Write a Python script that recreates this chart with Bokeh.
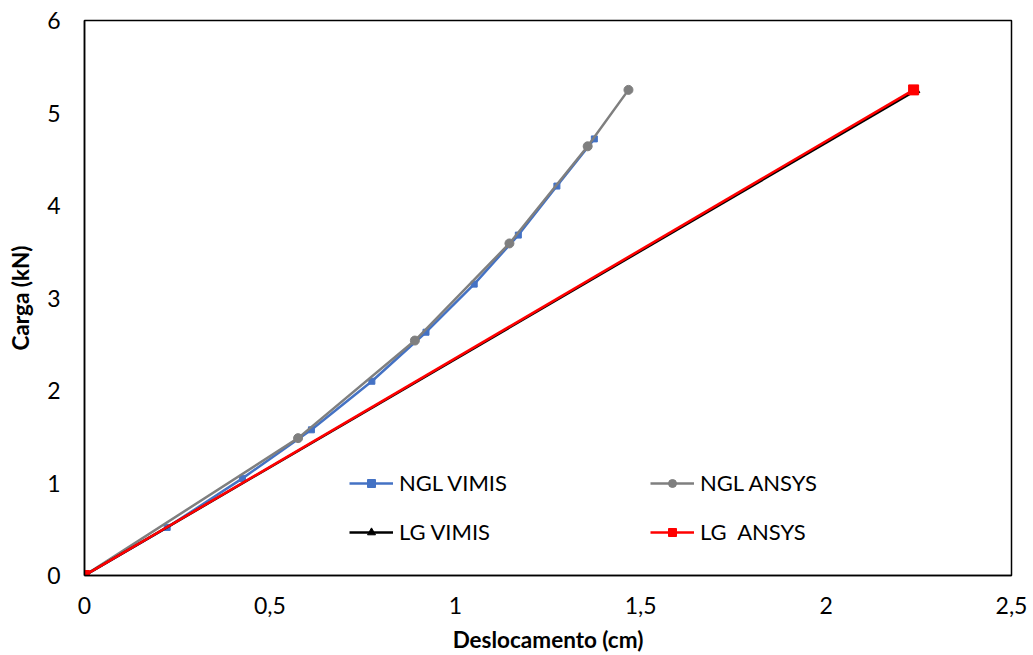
from bokeh.plotting import figure
from bokeh.models import Range1d, FixedTicker, Legend, LegendItem
from bokeh.embed import file_html
from bokeh.resources import INLINE

# Data
ngl_vimis_x = [0, 0.223, 0.426, 0.612, 0.775, 0.921, 1.051, 1.170, 1.274, 1.375]
ngl_vimis_y = [0, 0.52, 1.05, 1.575, 2.10, 2.63, 3.15, 3.68, 4.21, 4.72]
ngl_ansys_x = [0, 0.576, 0.891, 1.146, 1.357, 1.467]
ngl_ansys_y = [0, 1.485, 2.54, 3.59, 4.64, 5.25]
lg_vimis_x = [0, 2.242]
lg_vimis_y = [0, 5.245]
lg_ansys_x = [0, 2.236]
lg_ansys_y = [0, 5.25]

x_ticks = [0, 0.5, 1, 1.5, 2, 2.5]
x_tick_labels = ["0", "0,5", "1", "1,5", "2", "2,5"]
y_ticks = [0, 1, 2, 3, 4, 5, 6]
y_tick_labels = ["0", "1", "2", "3", "4", "5", "6"]

FONT = "Lato"

p = figure(width=1033, height=655, output_backend="svg", toolbar_location=None,
           x_range=Range1d(0, 2.5), y_range=Range1d(0, 6),
           min_border_left=84, min_border_right=22, min_border_top=20, min_border_bottom=79)
p.xgrid.visible = False
p.ygrid.visible = False
p.outline_line_color = "black"
p.outline_line_width = 1.5
p.outline_line_alpha = 1.0

for ax in (p.xaxis[0], p.yaxis[0]):
    ax.axis_line_color = "black"
    ax.axis_line_width = 1.5
    ax.major_tick_out = 0
    ax.major_tick_in = 0
    ax.minor_tick_out = 0
    ax.minor_tick_in = 0
    ax.major_label_text_font = FONT
    ax.major_label_text_font_size = "23px"
    ax.major_label_text_color = "black"
    ax.axis_label_text_font = FONT
    ax.axis_label_text_font_size = "22.5px"
    ax.axis_label_text_font_style = "bold"
    ax.axis_label_text_color = "black"

p.xaxis.ticker = FixedTicker(ticks=x_ticks)
p.xaxis.major_label_overrides = {t: l for t, l in zip(x_ticks, x_tick_labels)}
p.yaxis.ticker = FixedTicker(ticks=y_ticks)
p.yaxis.major_label_overrides = {t: l for t, l in zip(y_ticks, y_tick_labels)}
p.xaxis.axis_label = "Deslocamento (cm)"
p.yaxis.axis_label = "Carga (kN)"
p.xaxis.major_label_standoff = 21
p.yaxis.major_label_standoff = 24
p.xaxis.axis_label_standoff = 9
p.yaxis.axis_label_standoff = 10

blue = "#4472C4"
grey = "#7F7F7F"
red = "#FF0000"

l1 = p.line(ngl_vimis_x, ngl_vimis_y, line_color=blue, line_width=2.5)
s1 = p.scatter(ngl_vimis_x, ngl_vimis_y, marker="square", size=6, fill_color=blue, line_color=blue)
l2 = p.line(ngl_ansys_x, ngl_ansys_y, line_color=grey, line_width=2.5)
s2 = p.scatter(ngl_ansys_x, ngl_ansys_y, marker="circle", size=9, fill_color=grey, line_color=grey)
l3 = p.line(lg_vimis_x, lg_vimis_y, line_color="black", line_width=2.5)
s3 = p.scatter(lg_vimis_x, lg_vimis_y, marker="triangle", size=8, fill_color="black", line_color="black")
l4 = p.line(lg_ansys_x, lg_ansys_y, line_color=red, line_width=2.5)
s4 = p.scatter(lg_ansys_x, lg_ansys_y, marker="square", size=10, fill_color=red, line_color=red)

def make_legend(items, loc):
    lg = Legend(items=items, location=loc, orientation="vertical",
                padding=0, margin=0, spacing=22,
                glyph_width=44, glyph_height=20, label_height=20,
                label_standoff=6,
                label_text_font=FONT, label_text_font_size="22px",
                label_text_color="black",
                border_line_alpha=0, background_fill_alpha=0)
    p.add_layout(lg, "center")
    return lg

make_legend([LegendItem(label="NGL VIMIS", renderers=[l1, s1]),
             LegendItem(label="LG VIMIS", renderers=[l3, s3])], (265, 30))
make_legend([LegendItem(label="NGL ANSYS", renderers=[l2, s2]),
             LegendItem(label="LG  ANSYS", renderers=[l4, s4])], (566, 30))

open("out.html", "w").write(file_html(p, INLINE))
